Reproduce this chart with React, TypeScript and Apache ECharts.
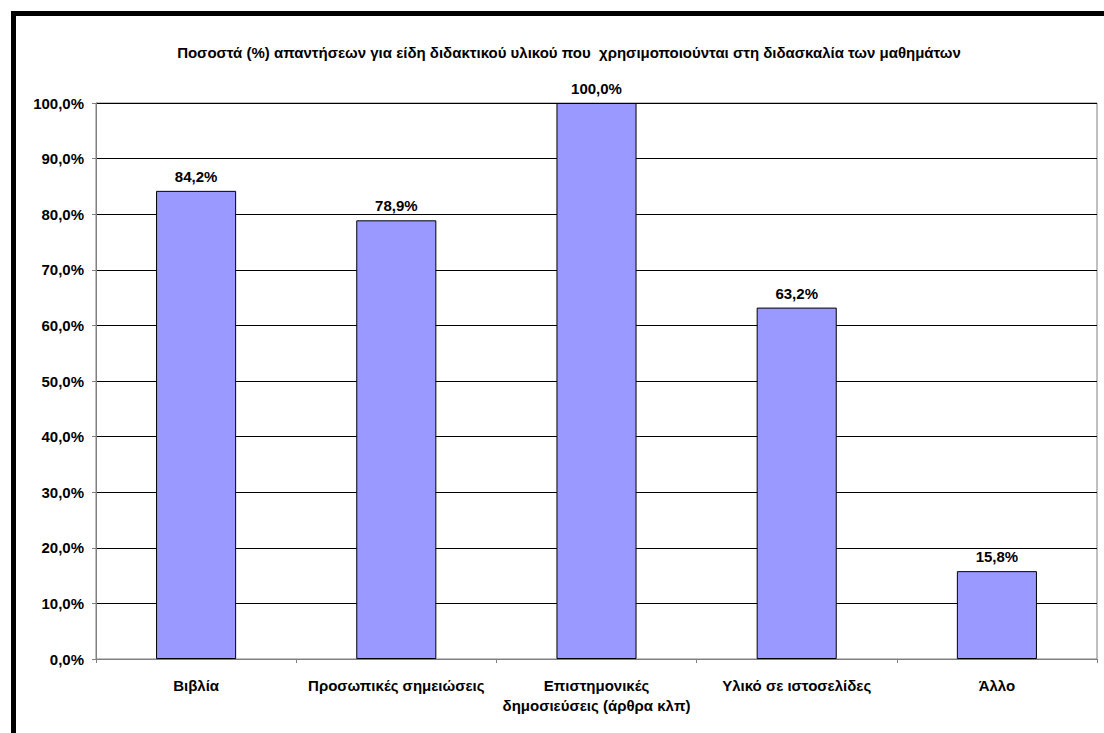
import React, { useEffect, useRef } from "react";
import * as echarts from "echarts";

const categories = [
  "Βιβλία",
  "Προσωπικές σημειώσεις",
  "Επιστημονικές\nδημοσιεύσεις (άρθρα κλπ)",
  "Υλικό σε ιστοσελίδες",
  "Άλλο",
];
const values = [84.2, 78.9, 100.0, 63.2, 15.8];
const titleText =
  "Ποσοστά (%) απαντήσεων για είδη διδακτικού υλικού που  χρησιμοποιούνται στη διδασκαλία των μαθημάτων";

const fmt = (v: number) => v.toFixed(1).replace(".", ",") + "%";

export default function App() {
  const ref = useRef<HTMLDivElement>(null);
  useEffect(() => {
    const chart = echarts.init(ref.current!, null, { renderer: "svg" });
    const font = "'Liberation Sans', Arial, sans-serif";
    chart.setOption({
      animation: false,
      backgroundColor: "#ffffff",
      textStyle: { fontFamily: font },
      title: {
        text: titleText,
        left: 564,
        textAlign: "center",
        top: 40,
        textStyle: { fontSize: 15, fontWeight: "bold", color: "#000", fontFamily: font },
      },
      graphic: [
        {
          type: "rect",
          shape: { x: 13.5, y: 13.5, width: 1200, height: 800 },
          style: { fill: "none", stroke: "#000", lineWidth: 5 },
          silent: true,
        },
      ],
      grid: {
        left: 96,
        top: 103,
        right: 7,
        bottom: 74,
        show: true,
        borderColor: "#808080",
        borderWidth: 1,
        backgroundColor: "#fff",
      },
      xAxis: {
        type: "category",
        data: categories,
        boundaryGap: true,
        axisLine: { lineStyle: { color: "#808080", width: 1 } },
        axisTick: { show: true, alignWithLabel: false, length: 4, lineStyle: { color: "#808080" } },
        axisLabel: {
          interval: 0,
          margin: 16,
          fontSize: 15,
          fontWeight: "bold",
          color: "#000",
          fontFamily: font,
          lineHeight: 20,
        },
      },
      yAxis: {
        type: "value",
        min: 0,
        max: 100,
        interval: 10,
        axisLine: { show: true, lineStyle: { color: "#808080", width: 1 } },
        axisTick: { show: true, length: 4, lineStyle: { color: "#808080" } },
        splitLine: { show: true, lineStyle: { color: "#000", width: 1 } },
        axisLabel: {
          formatter: (v: number) => fmt(v),
          margin: 12,
          fontSize: 15,
          fontWeight: "bold",
          color: "#000",
          fontFamily: font,
        },
      },
      series: [
        {
          type: "bar",
          data: values,
          barWidth: "40%",
          itemStyle: { color: "#9999FF", borderColor: "#000", borderWidth: 1 },
          label: {
            show: true,
            position: "top",
            distance: 7,
            formatter: (p: any) => fmt(p.value),
            fontSize: 15,
            fontWeight: "bold",
            color: "#000",
            fontFamily: font,
          },
        },
      ],
    });
    return () => chart.dispose();
  }, []);
  return <div ref={ref} style={{ width: 1104, height: 733, position: "absolute", left: 0, top: 0 }} />;
}
